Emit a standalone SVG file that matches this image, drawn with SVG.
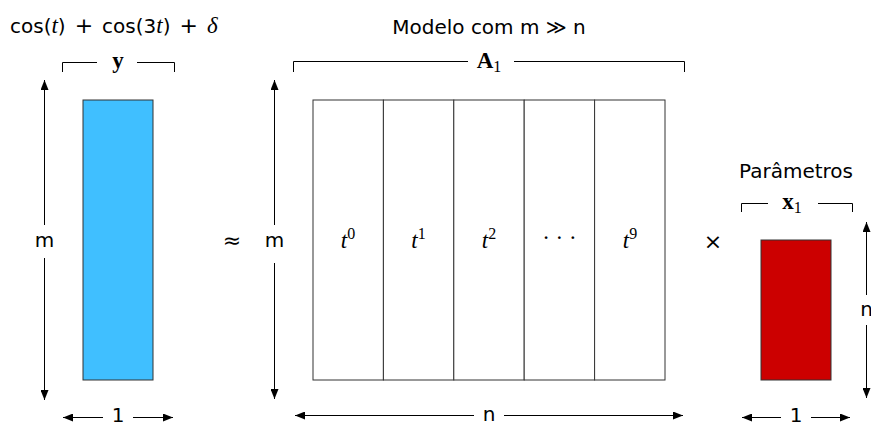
<svg xmlns="http://www.w3.org/2000/svg" width="871" height="423" viewBox="0 0 871 423">
<defs>
<marker id="ah" viewBox="0 0 10 8" refX="10" refY="4" markerWidth="10" markerHeight="8" markerUnits="userSpaceOnUse" orient="auto">
<path d="M0,0 L10,4 L0,8 Z" fill="#000"/>
</marker>
</defs>
<style>
.sans{font-family:"DejaVu Sans","Liberation Sans",sans-serif;font-size:20px;fill:#000}
.math{font-family:"Liberation Serif","DejaVu Serif",serif;font-size:23px;fill:#000}
.op{font-family:"DejaVu Sans",sans-serif;font-size:22px;fill:#000}
.it{font-style:italic}
.bold{font-weight:bold}
.ln{fill:none;stroke:#000;stroke-width:1}
.ar{fill:none;stroke:#000;stroke-width:1;marker-end:url(#ah)}
.cell{fill:#fff;stroke:#333;stroke-width:1}
</style>
<rect width="871" height="423" fill="#fff"/>

<g id="title-y">
<text x="10" y="33" class="sans">cos(<tspan class="math it">t</tspan>)<tspan class="op" dx="9">+</tspan><tspan dx="9">cos(3</tspan><tspan class="math it">t</tspan>)<tspan class="op" dx="9">+</tspan><tspan class="math it" dx="9">δ</tspan></text>
</g>
<g id="title-model">
<text x="489" y="34" class="sans" text-anchor="middle" font-size="20.5">Modelo com m ≫ n</text>
</g>
<g id="title-params">
<text x="796" y="178" class="sans" text-anchor="middle">Parâmetros</text>
</g>

<g id="vector-y">
<rect x="83" y="100" width="70" height="280" fill="#40bfff" stroke="#333" stroke-width="1"/>
</g>

<g id="matrix-A1">
<rect x="313" y="100" width="70.4" height="280" class="cell"/>
<rect x="383.4" y="100" width="70.4" height="280" class="cell"/>
<rect x="453.8" y="100" width="70.4" height="280" class="cell"/>
<rect x="524.2" y="100" width="70.4" height="280" class="cell"/>
<rect x="594.6" y="100" width="70.4" height="280" class="cell"/>
<text x="348" y="248" class="math" text-anchor="middle"><tspan class="it">t</tspan><tspan dy="-9" font-size="16">0</tspan></text>
<text x="418.5" y="248" class="math" text-anchor="middle"><tspan class="it">t</tspan><tspan dy="-9" font-size="16">1</tspan></text>
<text x="489" y="248" class="math" text-anchor="middle"><tspan class="it">t</tspan><tspan dy="-9" font-size="16">2</tspan></text>
<text x="559.4" y="245" class="math" text-anchor="middle">· · ·</text>
<text x="630" y="248" class="math" text-anchor="middle"><tspan class="it">t</tspan><tspan dy="-9" font-size="16">9</tspan></text>
</g>

<g id="vector-x1">
<rect x="761" y="240" width="70" height="140" fill="#cc0000" stroke="#333" stroke-width="1"/>
</g>

<g id="operators">
<text x="232" y="248" class="op" text-anchor="middle">≈</text>
<text x="713" y="249" class="op" text-anchor="middle">×</text>
</g>

<g id="connectors">
<!-- y bracket -->
<path class="ln" d="M62.5,72 V62.5 H97"/>
<path class="ln" d="M137,62.5 H174.5 V72"/>
<text x="118" y="68" class="math bold" text-anchor="middle">y</text>
<!-- A1 bracket -->
<path class="ln" d="M293.5,72 V61.5 H468"/>
<path class="ln" d="M514,61.5 H684.5 V72"/>
<text x="489" y="68" class="math bold" text-anchor="middle">A<tspan dy="4" font-size="16" font-weight="normal">1</tspan></text>
<!-- x1 bracket -->
<path class="ln" d="M741.5,212 V203.5 H768"/>
<path class="ln" d="M818,203.5 H852.5 V212"/>
<text x="792" y="209" class="math bold" text-anchor="middle">x<tspan dy="4" font-size="16" font-weight="normal">1</tspan></text>

<!-- left m arrow -->
<path class="ar" d="M44.5,225 V80"/>
<path class="ar" d="M44.5,258 V400"/>
<text x="44.5" y="247" class="sans" text-anchor="middle">m</text>
<!-- blue width arrow -->
<path class="ar" d="M103,417.5 H63"/>
<path class="ar" d="M133,417.5 H173"/>
<text x="118" y="422" class="sans" text-anchor="middle" font-size="19">1</text>

<!-- matrix m arrow -->
<path class="ar" d="M274.5,225 V80"/>
<path class="ar" d="M274.5,263 V399"/>
<text x="274.5" y="247" class="sans" text-anchor="middle">m</text>
<!-- matrix n arrow -->
<path class="ar" d="M474,415.5 H295"/>
<path class="ar" d="M504,415.5 H683"/>
<text x="489" y="421" class="sans" text-anchor="middle" font-size="19">n</text>

<!-- x1 n arrow -->
<path class="ar" d="M866.5,295 V222"/>
<path class="ar" d="M866.5,325 V398"/>
<text x="866.5" y="316" class="sans" text-anchor="middle">n</text>
<!-- x1 width arrow -->
<path class="ar" d="M781,417.5 H742"/>
<path class="ar" d="M811,417.5 H850"/>
<text x="796" y="422" class="sans" text-anchor="middle" font-size="19">1</text>
</g>
</svg>
